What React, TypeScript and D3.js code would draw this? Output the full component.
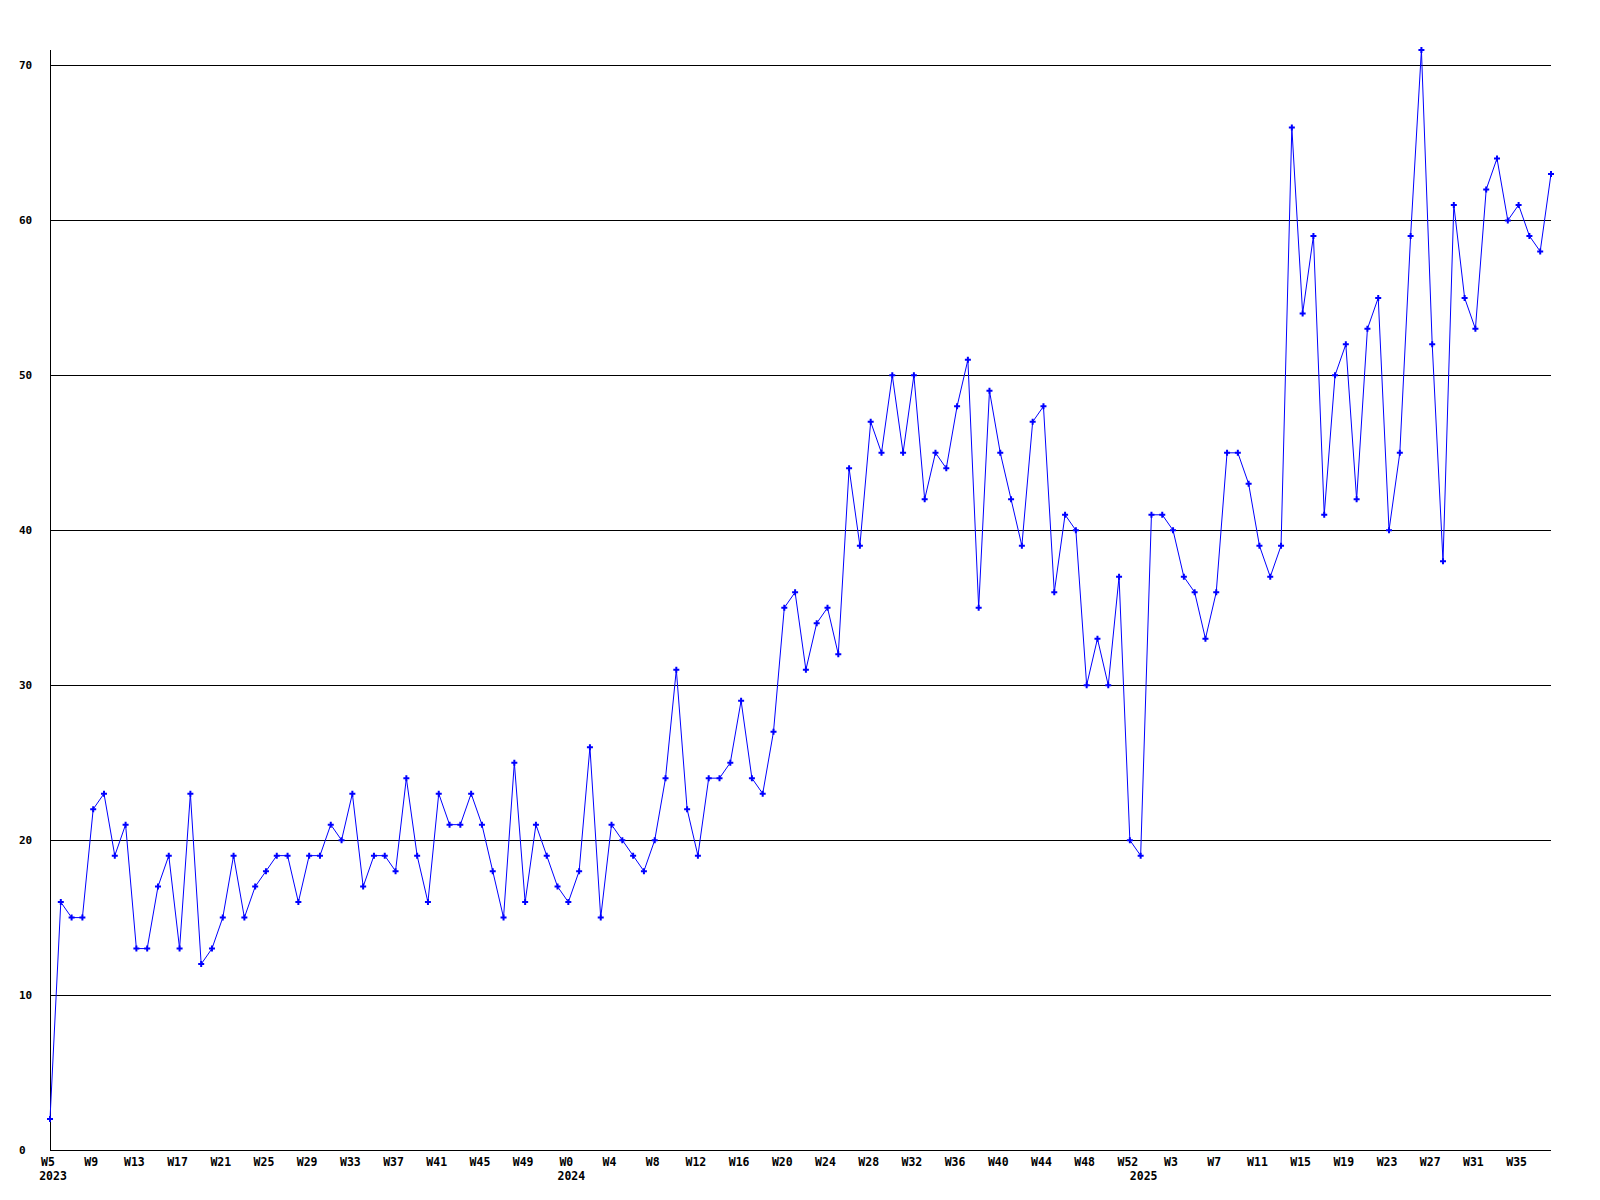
import React from "react";
import * as d3 from "d3";

// Weekly values
const values2023: number[] = [2, 16, 15, 15, 22, 23, 19, 21, 13, 13, 17, 19, 13, 23, 12, 13, 15, 19, 15, 17, 18, 19, 19, 16, 19, 19, 21, 20, 23, 17, 19, 19, 18, 24, 19, 16, 23, 21, 21, 23, 21, 18, 15, 25, 16, 21, 19, 17];
const values2024: number[] = [16, 18, 26, 15, 21, 20, 19, 18, 20, 24, 31, 22, 19, 24, 24, 25, 29, 24, 23, 27, 35, 36, 31, 34, 35, 32, 44, 39, 47, 45, 50, 45, 50, 42, 45, 44, 48, 51, 35, 49, 45, 42, 39, 47, 48, 36, 41, 40, 30, 33, 30, 37, 20];
const values2025: number[] = [19, 41, 41, 40, 37, 36, 33, 36, 45, 45, 43, 39, 37, 39, 66, 54, 59, 41, 50, 52, 42, 53, 55, 40, 45, 59, 71, 52, 38, 61, 55, 53, 62, 64, 60, 61, 59, 58, 63];

// First week number of each year's series
const years: number[] = [2023, 2024, 2025];
const firstWeeks: number[] = [5, 0, 0];
const yTicks: number[] = [0, 10, 20, 30, 40, 50, 60, 70];

type Pt = { i: number; year: number; week: number; v: number };

const series = [values2023, values2024, values2025];
const points: Pt[] = [];
series.forEach((arr, yi) => {
  arr.forEach((v, k) => {
    points.push({ i: points.length, year: years[yi], week: firstWeeks[yi] + k, v });
  });
});

const W = 1600;
const H = 1200;
const left = 50;
const right = 1551;
const top = 50;
const bottom = 1150;

export default function App() {
  const x = d3.scaleLinear().domain([0, points.length - 1]).range([left, right]);
  const y = d3.scaleLinear().domain([0, 71]).range([bottom, top]);
  const line = d3
    .line<Pt>()
    .x((d) => x(d.i))
    .y((d) => y(d.v));
  const cross = d3.symbol().type(d3.symbolCross).size(20)();
  const font = "'DejaVu Sans Mono', monospace";
  const tickPts = points.filter((p) => p.i % 4 === 0);
  const yearStarts = points.filter((p, idx) => idx === 0 || points[idx - 1].year !== p.year);

  return (
    <div style={{ position: "absolute", left: 0, top: 0 }}>
      <svg width={W} height={H} style={{ display: "block", background: "#fff" }}>
        <rect x={0} y={0} width={W} height={H} fill="#fff" />
        {yTicks.map((t) => (
          <g key={t}>
            {t > 0 && (
              <line x1={left} x2={right} y1={Math.round(y(t)) + 0.5} y2={Math.round(y(t)) + 0.5} stroke="#000" strokeWidth={1} shapeRendering="crispEdges" />
            )}
            <text x={19} y={y(t)} dy="0.35em" fontFamily={font} fontWeight="bold" fontSize={11} fill="#000">
              {t}
            </text>
          </g>
        ))}
        <line x1={left + 0.5} x2={left + 0.5} y1={top} y2={bottom} stroke="#000" strokeWidth={1} shapeRendering="crispEdges" />
        <line x1={left} x2={right} y1={bottom + 0.5} y2={bottom + 0.5} stroke="#000" strokeWidth={1} shapeRendering="crispEdges" />
        {tickPts.map((p) => (
          <text key={p.i} x={x(p.i) - 2} y={1162} dy="0.35em" textAnchor="middle" fontFamily={font} fontWeight="bold" fontSize={11.5} fill="#000">
            {"W" + p.week}
          </text>
        ))}
        {yearStarts.map((p) => (
          <text key={"y" + p.year} x={x(p.i) + 3} y={1176} dy="0.35em" textAnchor="middle" fontFamily={font} fontWeight="bold" fontSize={11.5} fill="#000">
            {p.year}
          </text>
        ))}
        <path d={line(points) || ""} fill="none" stroke="#0000ff" strokeWidth={1} />
        {points.map((p) => (
          <path key={"m" + p.i} d={cross || ""} transform={`translate(${x(p.i)},${y(p.v)})`} fill="#0000ff" />
        ))}
      </svg>
    </div>
  );
}
